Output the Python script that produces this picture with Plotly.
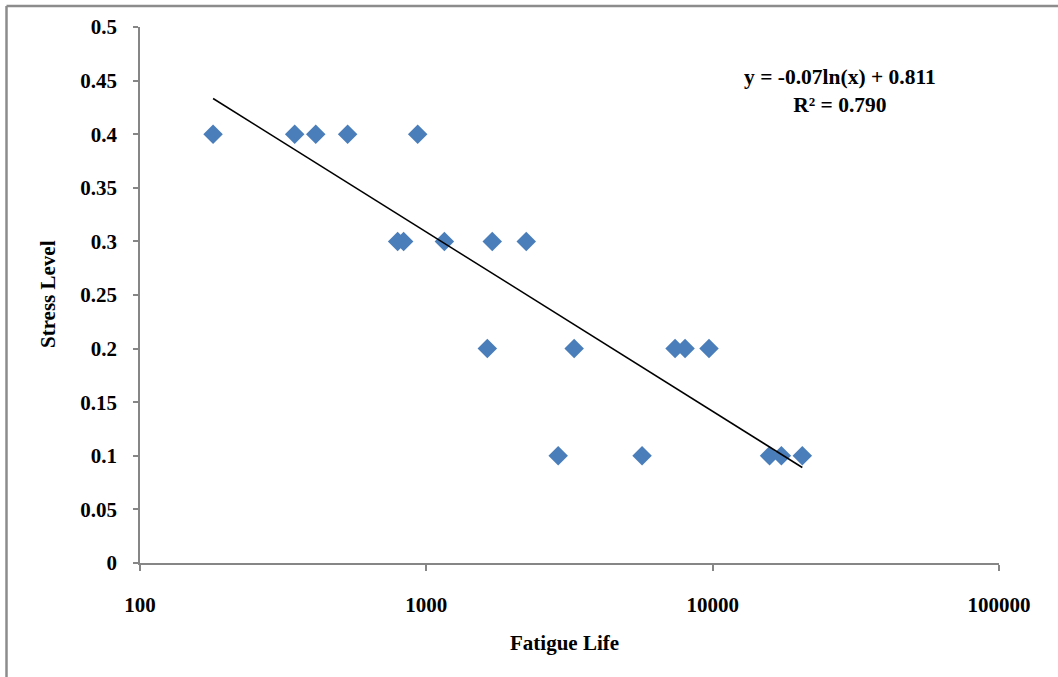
import numpy as np
import plotly.graph_objects as go

# Data
fatigue_life = [180, 347, 411, 531, 933,
                794, 833, 1156, 1699, 2233,
                1633, 3283, 7389, 8008, 9712,
                2887, 5668, 15800, 17380, 20560]
stress_level = [0.4, 0.4, 0.4, 0.4, 0.4,
                0.3, 0.3, 0.3, 0.3, 0.3,
                0.2, 0.2, 0.2, 0.2, 0.2,
                0.1, 0.1, 0.1, 0.1, 0.1]

x_tickvals = [100, 1000, 10000, 100000]
x_ticktext = ["100", "1000", "10000", "100000"]
y_tickvals = [0, 0.05, 0.1, 0.15, 0.2, 0.25, 0.3, 0.35, 0.4, 0.45, 0.5]
y_ticktext = ["0", "0.05", "0.1", "0.15", "0.2", "0.25", "0.3", "0.35", "0.4", "0.45", "0.5"]

equation_lines = ["y = -0.07ln(x) + 0.811", "R² = 0.790"]

# logarithmic trendline fitted from the data
lx = np.log(np.array(fatigue_life, dtype=float))
ys = np.array(stress_level)
slope, intercept = np.polyfit(lx, ys, 1)
trend_x = np.geomspace(min(fatigue_life), max(fatigue_life), 50)
trend_y = slope * np.log(trend_x) + intercept

FONT = "Liberation Serif"
AXIS_COLOR = "#868686"

fig = go.Figure()
fig.add_trace(go.Scatter(
    x=fatigue_life, y=stress_level, mode="markers",
    marker=dict(symbol="diamond", size=15, color="#4a7ebb", line=dict(width=0)),
    showlegend=False,
))
fig.add_trace(go.Scatter(
    x=trend_x, y=trend_y, mode="lines",
    line=dict(color="black", width=1.5),
    showlegend=False,
))

W, H = 1058, 677
ml, mr, mt, mb = 140, 59, 27, 114
pw, ph = W - ml - mr, H - mt - mb

def px_to_paper_x(px):
    return (px - ml) / pw

def px_to_paper_y(py):
    return (H - mb - py) / ph

fig.update_layout(
    width=W, height=H,
    margin=dict(l=ml, r=mr, t=mt, b=mb, pad=0),
    paper_bgcolor="white", plot_bgcolor="white",
    font=dict(family=FONT, color="black", size=21),
    xaxis=dict(
        type="log", range=[2, 5],
        tickvals=x_tickvals, ticktext=x_ticktext,
        tickfont=dict(family=FONT, size=21, color="black", weight="bold"),
        showgrid=False, zeroline=False,
        showline=True, linecolor=AXIS_COLOR, linewidth=1.5,
        ticks="outside", ticklen=6, tickcolor=AXIS_COLOR, tickwidth=1.5,
        ticklabelstandoff=16,
    ),
    yaxis=dict(
        range=[0, 0.5],
        tickvals=y_tickvals, ticktext=y_ticktext,
        tickfont=dict(family=FONT, size=21, color="black", weight="bold"),
        showgrid=False, zeroline=False,
        showline=True, linecolor=AXIS_COLOR, linewidth=1.5,
        ticks="outside", ticklen=5, tickcolor=AXIS_COLOR, tickwidth=1.5,
        ticklabelstandoff=12,
    ),
    annotations=[
        dict(text="<b>Fatigue Life</b>", xref="paper", yref="paper",
             x=px_to_paper_x(564), y=px_to_paper_y(643),
             xanchor="center", yanchor="middle", showarrow=False,
             font=dict(family=FONT, size=21, color="black")),
        dict(text="<b>Stress Level</b>", xref="paper", yref="paper",
             x=px_to_paper_x(48), y=px_to_paper_y(294), textangle=-90,
             xanchor="center", yanchor="middle", showarrow=False,
             font=dict(family=FONT, size=21, color="black")),
        dict(text="<br>".join("<b>" + s + "</b>" for s in equation_lines),
             xref="paper", yref="paper",
             x=px_to_paper_x(840), y=px_to_paper_y(91),
             xanchor="center", yanchor="middle", showarrow=False, align="center",
             font=dict(family=FONT, size=21.5, color="black")),
    ],
    shapes=[
        dict(type="line", xref="paper", yref="paper",
             x0=px_to_paper_x(6.5), x1=px_to_paper_x(1060),
             y0=px_to_paper_y(6), y1=px_to_paper_y(6),
             line=dict(color="#8c8c8c", width=2.5)),
        dict(type="line", xref="paper", yref="paper",
             x0=px_to_paper_x(6.5), x1=px_to_paper_x(6.5),
             y0=px_to_paper_y(6), y1=px_to_paper_y(680),
             line=dict(color="#8c8c8c", width=2.5)),
    ],
)

fig.write_html("out.html",
               config={"displayModeBar": False},
               post_script="document.body.style.margin='0px';document.body.style.overflow='hidden';")
